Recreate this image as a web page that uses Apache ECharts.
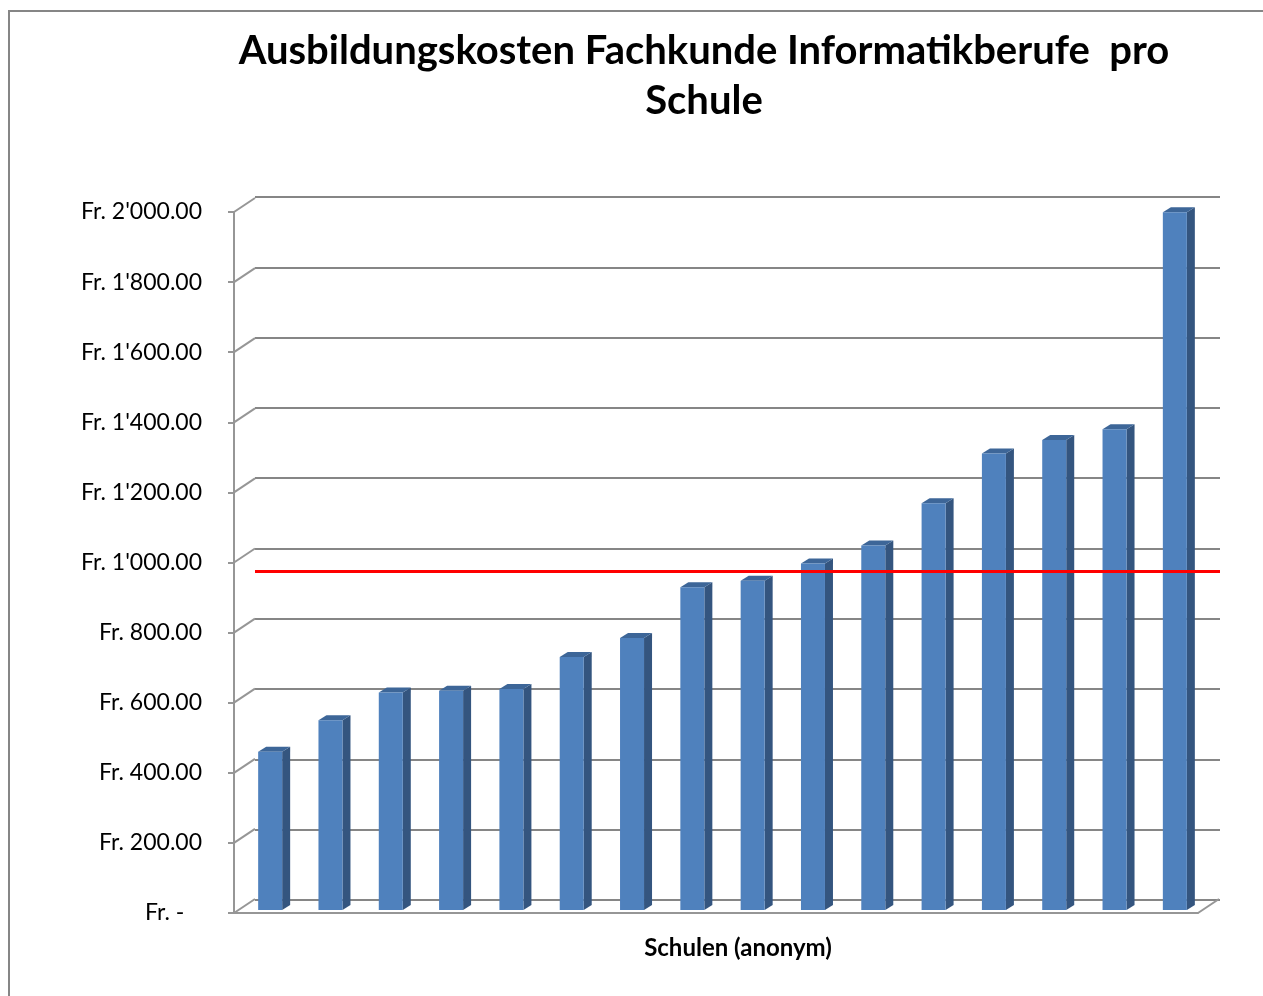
<!DOCTYPE html>
<html>
<head>
<meta charset="utf-8">
<script src="https://cdn.jsdelivr.net/npm/echarts@6/dist/echarts.min.js"></script>
<style>
  html, body { margin: 0; padding: 0; background: #fff; }
  #chart { width: 1263px; height: 996px; }
</style>
</head>
<body>
<div id="chart"></div>
<script>
// Ausbildungskosten pro Schule (3D-Säulen nachgebaut)
const schulen = ['S1', 'S2', 'S3', 'S4', 'S5', 'S6', 'S7', 'S8',
  'S9', 'S10', 'S11', 'S12', 'S13', 'S14', 'S15', 'S16']
const kosten = [450, 540, 619, 624, 629, 720, 774, 918,
  937, 986, 1037, 1157, 1299, 1337, 1368, 1985]
const yTicks = [0, 200, 400, 600, 800, 1000, 1200, 1400, 1600, 1800, 2000]
const rotLinie = 936

const depthX = 21
const depthY = -14

function fmtFr(v) {
  if (v === 0) return 'Fr. -   '
  const s = String(v).replace(/\B(?=(\d{3})+(?!\d))/g, "'")
  return 'Fr. ' + s + '.00'
}

const chart = echarts.init(document.getElementById('chart'))

chart.setOption({
  animation: false,
  textStyle: { fontFamily: 'Lato' },
  title: {
    text: 'Ausbildungskosten Fachkunde Informatikberufe  pro\nSchule',
    left: 699,
    textAlign: 'center',
    top: 21,
    textStyle: { fontSize: 40, fontWeight: 'bold', color: '#000', lineHeight: 50, fontFamily: 'Lato' }
  },
  graphic: [{
    type: 'rect',
    shape: { x: 9, y: 11, width: 1400, height: 1100 },
    style: { fill: 'none', stroke: '#868686', lineWidth: 2 },
    silent: true
  }],
  grid: [
    // vordere Ebene: Achse mit Beschriftung
    { left: 234, right: 65, top: 212, bottom: 83 },
    // hintere Wand: Gitterlinien und Säulen
    { left: 255, right: 43, top: 197, bottom: 96 }
  ],
  xAxis: [{
    gridIndex: 0,
    type: 'value',
    min: 0,
    max: 1,
    axisLabel: { show: false },
    axisTick: { show: false },
    splitLine: { show: false },
    axisLine: { show: true, onZero: false, lineStyle: { color: '#969696', width: 2 } },
    name: 'Schulen (anonym)',
    nameLocation: 'middle',
    nameGap: 23,
    nameTextStyle: { fontSize: 24, fontWeight: 'bold', color: '#000', fontFamily: 'Lato', padding: [0, 0, 0, 44] }
  }, {
    gridIndex: 1,
    type: 'category',
    data: schulen,
    axisLabel: { show: false },
    axisTick: { show: false },
    axisLine: { show: false }
  }],
  yAxis: [{
    gridIndex: 0,
    type: 'value',
    min: 0,
    max: 2000,
    interval: 200,
    axisLine: { show: true, lineStyle: { color: '#969696', width: 2 } },
    axisTick: { show: true, length: 6, lineStyle: { color: '#969696', width: 2 } },
    splitLine: { show: false },
    axisLabel: {
      formatter: fmtFr,
      fontSize: 23,
      color: '#000',
      margin: 32,
      fontFamily: 'Lato'
    }
  }, {
    gridIndex: 1,
    type: 'value',
    min: 0,
    max: 2000,
    interval: 200,
    axisLine: { show: false },
    axisTick: { show: false },
    axisLabel: { show: false },
    splitLine: { show: true, lineStyle: { color: '#868686', width: 2 } }
  }],
  series: [{
    // schräge Verbindungen von der Achse zur Rückwand
    type: 'custom',
    xAxisIndex: 0,
    yAxisIndex: 0,
    silent: true,
    data: yTicks.map(v => [0, v]).concat([[1, 0]]),
    renderItem(params, api) {
      const p = api.coord([api.value(0), api.value(1)])
      return {
        type: 'line',
        shape: { x1: p[0], y1: p[1], x2: p[0] + depthX, y2: p[1] + depthY },
        style: { stroke: '#969696', lineWidth: 2 }
      }
    }
  }, {
    name: 'Kosten',
    type: 'custom',
    xAxisIndex: 1,
    yAxisIndex: 1,
    data: kosten.map((v, i) => [i, v]),
    renderItem(params, api) {
      const base = api.coord([api.value(0), 0])
      const top = api.coord([api.value(0), api.value(1)])
      const w = 24
      const dx = 8
      const dy = -5
      const x0 = base[0] - 15 - w / 2
      const yb = base[1] + 10
      const yt = top[1] + 10
      return {
        type: 'group',
        children: [{
          type: 'polygon',
          shape: { points: [[x0 + w, yt], [x0 + w + dx, yt + dy], [x0 + w + dx, yb + dy], [x0 + w, yb]] },
          style: { fill: '#34557F' }
        }, {
          type: 'polygon',
          shape: { points: [[x0, yt], [x0 + dx, yt + dy], [x0 + w + dx, yt + dy], [x0 + w, yt]] },
          style: { fill: '#3D6698' }
        }, {
          type: 'rect',
          shape: { x: x0, y: yt, width: w, height: yb - yt },
          style: { fill: '#4F81BD' }
        }]
      }
    },
    markLine: {
      silent: true,
      symbol: 'none',
      label: { show: false },
      lineStyle: { color: '#FF0000', width: 3, type: 'solid' },
      data: [{ yAxis: rotLinie }]
    }
  }]
})
</script>
</body>
</html>
